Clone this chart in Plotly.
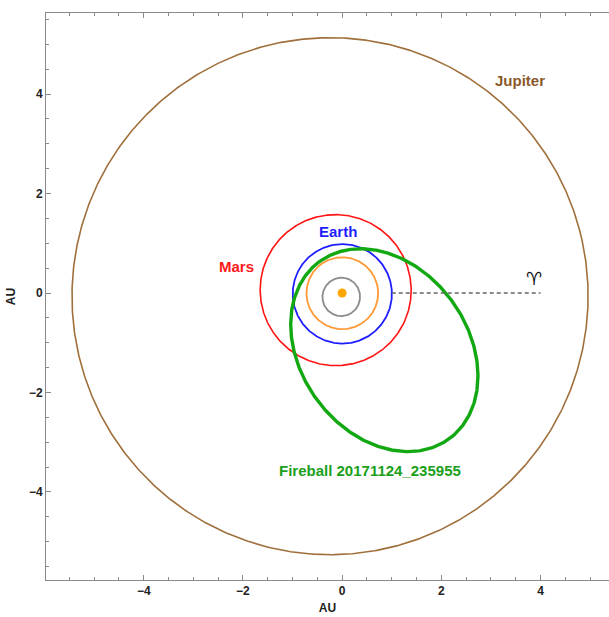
import numpy as np
import plotly.graph_objects as go

# Orbital elements: semi-major axis (AU), eccentricity, longitude of perihelion (deg)
bodies = ["Mercury", "Venus", "Earth", "Mars", "Jupiter", "Fireball 20171124_235955"]
semi_major = [0.387, 0.723, 1.000, 1.524, 5.203, 2.21]
eccentricity = [0.2056, 0.0068, 0.0167, 0.0934, 0.0484, 0.647]
perihelion_lon = [77.5, 131.5, 102.9, 336.0, 14.7, 126.5]
colors = ["#8c8c8c", "#FF9933", "#1E1EFF", "#FF1414", "#A0703C", "#12A812"]
widths = [1.8, 1.8, 1.8, 1.6, 1.6, 3.4]

# labels
label_text = ["Earth", "Mars", "Jupiter", "Fireball 20171124_235955"]
label_x = [-0.08, -2.12, 3.58, 0.57]
label_y = [1.24, 0.53, 4.27, -3.56]
label_color = ["#1E1EFF", "#FF1A1A", "#8B5A2B", "#1AA01A"]

# vernal equinox direction
equinox_x = [1.0, 4.0]
equinox_y = [0.0, 0.0]
aries_x, aries_y = 3.87, 0.29

fig = go.Figure()
nu = np.linspace(0, 2 * np.pi, 721)
for name, a, e, w, c, lw in zip(bodies, semi_major, eccentricity, perihelion_lon, colors, widths):
    r = a * (1 - e ** 2) / (1 + e * np.cos(nu))
    ang = nu + np.deg2rad(w)
    fig.add_trace(go.Scatter(x=r * np.cos(ang), y=r * np.sin(ang), mode="lines",
                             line=dict(color=c, width=lw), name=name, hoverinfo="skip"))

fig.add_trace(go.Scatter(x=equinox_x, y=equinox_y, mode="lines",
                         line=dict(color="#666666", width=1.3, dash="4px,3px"), hoverinfo="skip"))
fig.add_trace(go.Scatter(x=[0], y=[0], mode="markers",
                         marker=dict(color="#FFA500", size=9), hoverinfo="skip"))

for t, x, y, c in zip(label_text, label_x, label_y, label_color):
    fig.add_annotation(x=x, y=y, text="<b>%s</b>" % t, showarrow=False,
                       font=dict(family="Liberation Sans, Arial", size=15, color=c))
fig.add_annotation(x=aries_x, y=aries_y, text="<b>♈</b>", showarrow=False,
                   font=dict(family="DejaVu Sans", size=18, color="#111111"))

axis_font = dict(family="Liberation Sans, Arial", size=12, color="#222222")
fig.update_layout(
    width=609, height=617,
    margin=dict(l=46, r=0, t=13, b=37),
    paper_bgcolor="white", plot_bgcolor="white",
    showlegend=False,
    xaxis=dict(range=[-5.97, 5.38], showgrid=False, zeroline=False, showline=True,
               linecolor="#8a8a8a", linewidth=1, mirror="ticks",
               ticks="inside", ticklen=5, tickcolor="#8a8a8a", dtick=2, tick0=0,
               minor=dict(dtick=0.5, ticks="inside", ticklen=3, tickcolor="#8a8a8a"),
               tickfont=axis_font, tickprefix="<b>", ticksuffix="</b>",
               title=dict(text="<b>AU</b>", font=axis_font, standoff=6)),
    yaxis=dict(range=[-5.77, 5.63], showgrid=False, zeroline=False, showline=True,
               linecolor="#8a8a8a", linewidth=1, mirror=False,
               ticks="inside", ticklen=5, tickcolor="#8a8a8a", dtick=2, tick0=0,
               minor=dict(dtick=0.5, ticks="inside", ticklen=3, tickcolor="#8a8a8a"),
               tickfont=axis_font, tickprefix="<b>", ticksuffix="</b>",
               title=dict(text="<b>AU</b>", font=axis_font, standoff=10)),
)
fig.write_html("out.html")
